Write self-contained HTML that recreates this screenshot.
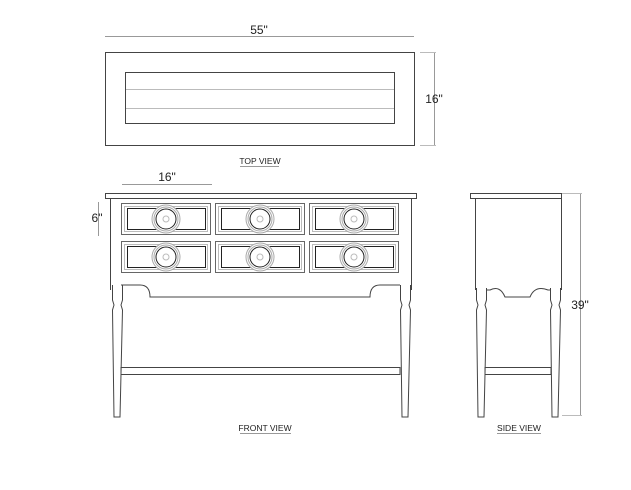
<!DOCTYPE html>
<html><head><style>body{margin:0;background:#fff}svg{display:block}text{font-family:"Liberation Sans",sans-serif;fill:#222}</style></head><body>
<svg width="631" height="490" viewBox="0 0 631 490" xmlns="http://www.w3.org/2000/svg">
<g fill="none" stroke="#444" stroke-width="1">
<rect x="105.5" y="52.5" width="309" height="93"/>
<rect x="125.5" y="72.5" width="269" height="51"/>
<line x1="126" y1="89.5" x2="394" y2="89.5" stroke="#bbb"/>
<line x1="126" y1="108.5" x2="394" y2="108.5" stroke="#bbb"/>
<line x1="105" y1="36.5" x2="414" y2="36.5" stroke="#999"/>
<line x1="434.5" y1="52" x2="434.5" y2="145" stroke="#999"/>
<line x1="420" y1="52.5" x2="436" y2="52.5" stroke="#bbb"/>
<line x1="420" y1="145.5" x2="436" y2="145.5" stroke="#bbb"/>
<line x1="240" y1="166.5" x2="279" y2="166.5" stroke="#999"/>
<rect x="105.5" y="193.5" width="311" height="5"/>
<path d="M110.5 198 V290 M411.5 198 V290"/>
<g id="dr">
<rect x="121.5" y="203.5" width="89" height="31" stroke="#666"/>
<rect x="124.5" y="206.5" width="83" height="25" stroke="#bbb"/>
<rect x="127.5" y="208.5" width="78" height="21" stroke="#222"/>
<circle cx="166" cy="219" r="14" fill="#fff" stroke="#aaa"/>
<circle cx="166" cy="219" r="12" stroke="#aaa"/>
<circle cx="166" cy="219" r="10" stroke="#222"/>
<circle cx="166" cy="219" r="3" stroke="#bbb"/>
</g>
<use href="#dr" x="94"/><use href="#dr" x="188"/>
<use href="#dr" y="38"/><use href="#dr" x="94" y="38"/><use href="#dr" x="188" y="38"/>
<path d="M121 285 H140 Q150 285 150 297 H370 Q370 285 380 285 H400"/>
<path d="M112.5 285 V300 L114 305 L112.5 310 L114 417 H120 L122.5 310 L121 305 L122.5 300 V285"/>
<path d="M400.5 285 V300 L402 305 L400.5 310 L402 417 H408 L410.5 310 L409 305 L410.5 300 V285"/>
<rect x="121" y="367.5" width="279" height="7"/>
<line x1="122" y1="184.5" x2="212" y2="184.5" stroke="#999"/>
<line x1="98.5" y1="202" x2="98.5" y2="236" stroke="#999"/>
<line x1="240" y1="433.5" x2="291" y2="433.5" stroke="#999"/>
<rect x="470.5" y="193.5" width="91" height="5"/>
<path d="M475.5 198 V290 M561.5 198 V290"/>
<path d="M486 290 H490 Q500 285 505 297 H530 Q535 285 548 290 H550"/>
<path d="M476.5 288 V300 L478 305 L476.5 310 L478 417 H484 L486.5 310 L485 305 L486.5 300 V288"/>
<path d="M550.5 288 V300 L552 305 L550.5 310 L552 417 H558 L560.5 310 L559 305 L560.5 300 V288"/>
<rect x="485" y="367.5" width="66" height="7"/>
<line x1="580.5" y1="193" x2="580.5" y2="416" stroke="#999"/>
<line x1="562" y1="193.5" x2="582" y2="193.5" stroke="#bbb"/>
<line x1="562" y1="415.5" x2="582" y2="415.5" stroke="#bbb"/>
<line x1="497" y1="433.5" x2="541" y2="433.5" stroke="#999"/>
</g>
<g font-size="12" text-anchor="middle">
<text x="259" y="34">55"</text>
<text x="434" y="103">16"</text>
<text x="260" y="164" font-size="8.5">TOP  VIEW</text>
<text x="167" y="181">16"</text>
<text x="97" y="222">6"</text>
<text x="265" y="431" font-size="8.5">FRONT  VIEW</text>
<text x="580" y="309">39"</text>
<text x="519" y="431" font-size="8.5">SIDE  VIEW</text>
</g>
</svg>
</body></html>
